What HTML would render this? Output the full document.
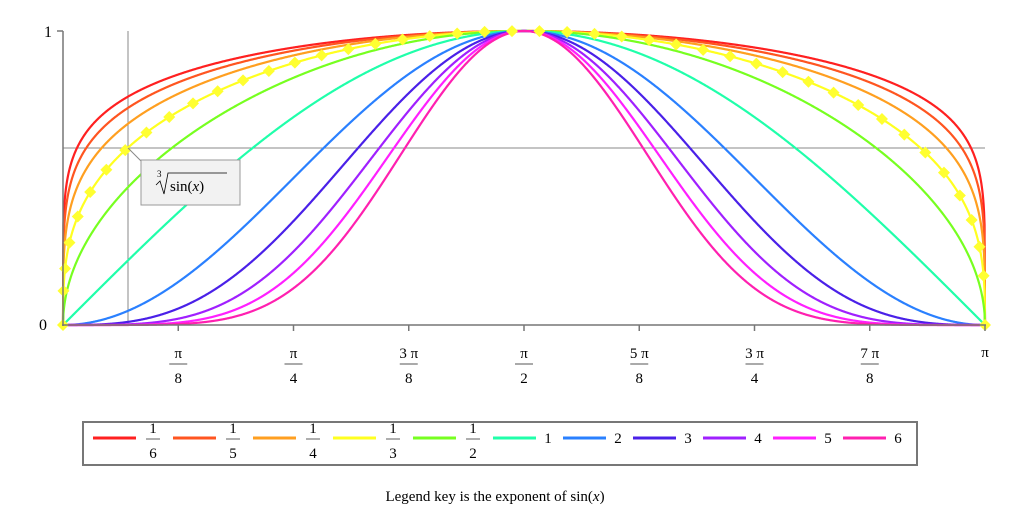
<!DOCTYPE html>
<html><head><meta charset="utf-8"><style>
body{margin:0;background:#fff;}
svg{display:block;font-family:"Liberation Serif",serif;}
</style></head><body>
<svg id="s" width="1026" height="513" xmlns="http://www.w3.org/2000/svg">
<g font-size="15" fill="#000">
<text x="44" y="37" font-size="16">1</text>
<text x="39" y="330" font-size="16">0</text>
</g>
<line x1="128" y1="31" x2="128" y2="325" stroke="#888" stroke-width="1"/>
<line x1="63" y1="148" x2="985" y2="148" stroke="#888" stroke-width="1"/>
<g id="curves"></g>
<line x1="63" y1="31" x2="63" y2="326" stroke="#777" stroke-width="1.5"/>
<line x1="57" y1="31" x2="63" y2="31" stroke="#777" stroke-width="1.5"/>
<line x1="62" y1="325" x2="986" y2="325" stroke="#777" stroke-width="1.5"/>
<g id="ticks" stroke="#777" stroke-width="1.5"></g>
<g id="tlab" font-size="15" text-anchor="middle"></g>
<line x1="128" y1="148" x2="142" y2="162" stroke="#888"/>
<rect x="141" y="160" width="99" height="45" fill="#f2f2f2" stroke="#999"/>
<text x="157" y="177" font-size="9">3</text>
<path d="M156 185 L160 181 L164 194 L168 173 L227 173" fill="none" stroke="#000" stroke-width="0.8"/>
<text x="170" y="191" font-size="15">sin(<tspan font-style="italic">x</tspan>)</text>
<rect x="83" y="422" width="834" height="43" fill="#fff" stroke="#777" stroke-width="2"/>
<g id="leg" font-size="15" text-anchor="middle"></g>
<text x="495" y="501" font-size="15" text-anchor="middle">Legend key is the exponent of  sin(<tspan font-style="italic">x</tspan>)</text>
</svg>
<script>
var NS="http://www.w3.org/2000/svg";
function el(t,a,p){var e=document.createElementNS(NS,t);for(var k in a)e.setAttribute(k,a[k]);p.appendChild(e);return e;}
var x0=63,W=922,y0=325,H=294;
var ser=[[1/6,"#ff2020"],[1/5,"#ff5520"],[1/4,"#ff9f20"],[1/3,"#ffff20"],[1/2,"#77ff20"],[1,"#20ffaa"],[2,"#2a80ff"],[3,"#4a20e8"],[4,"#a020ff"],[5,"#ff20ff"],[6,"#ff20b0"]];
var cg=document.getElementById("curves");
ser.forEach(function(s){
 var d="";
 for(var i=0;i<=2000;i++){var t=i/2000;var v=Math.pow(Math.sin(t*Math.PI),s[0]);if(i==0||i==2000)v=0;
  d+=(i?"L":"M")+(x0+t*W).toFixed(2)+" "+(y0-v*H).toFixed(2);}
 el("path",{d:d,fill:"none",stroke:s[1],"stroke-width":2.2},cg);
});
var pts=[],N=4000;
for(var i=0;i<=N;i++){var t=i/N;var v=Math.pow(Math.sin(t*Math.PI),1/3);if(i==0||i==N)v=0;pts.push([x0+t*W,y0-v*H]);}
var acc=0,step=27.5,next=0;
for(var i=0;i<pts.length;i++){
 if(i>0){acc+=Math.hypot(pts[i][0]-pts[i-1][0],pts[i][1]-pts[i-1][1]);}
 if(acc>=next||i==pts.length-1){var p=pts[i];
  el("path",{d:"M"+p[0]+" "+(p[1]-6)+"L"+(p[0]+6)+" "+p[1]+"L"+p[0]+" "+(p[1]+6)+"L"+(p[0]-6)+" "+p[1]+"Z",fill:"#ffff30"},cg);
  next+=step;}
}
var tg=document.getElementById("ticks"),tl=document.getElementById("tlab");
var labs=[["π","8"],["π","4"],["3 π","8"],["π","2"],["5 π","8"],["3 π","4"],["7 π","8"]];
for(var k=1;k<=8;k++){var x=x0+k*W/8;el("line",{x1:x,y1:325,x2:x,y2:331},tg);
 if(k<8){var a=el("text",{x:x,y:358},tl);a.textContent=labs[k-1][0];
  el("line",{x1:x-9,y1:364,x2:x+9,y2:364,stroke:"#777","stroke-width":1.2},tl);
  var b=el("text",{x:x,y:383},tl);b.textContent=labs[k-1][1];}
 else{var a=el("text",{x:x,y:357},tl);a.textContent="π";}
}
var lg=document.getElementById("leg");
var fr=["6","5","4","3","2"],wh=["1","2","3","4","5","6"];
for(var j=0;j<11;j++){var lx=j<5?93+j*80:493+(j-5)*70;
 el("line",{x1:lx,y1:438,x2:lx+43,y2:438,stroke:ser[j][1],"stroke-width":3},lg);
 if(j<5){var cx=lx+60;var a=el("text",{x:cx,y:433},lg);a.textContent="1";
  el("line",{x1:cx-7,y1:439,x2:cx+7,y2:439,stroke:"#777","stroke-width":1.2},lg);
  var b=el("text",{x:cx,y:458},lg);b.textContent=fr[j];}
 else{var a=el("text",{x:lx+55,y:443},lg);a.textContent=wh[j-5];}
}
</script>
</body></html>
